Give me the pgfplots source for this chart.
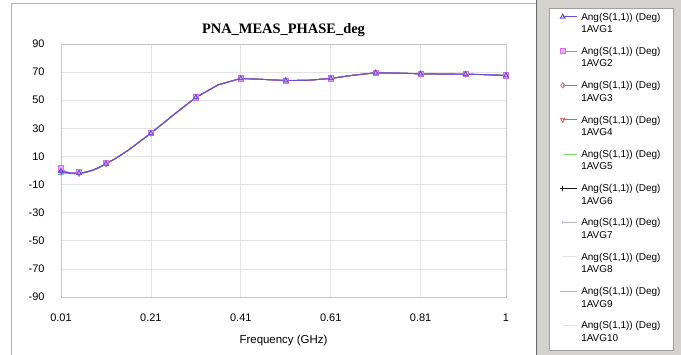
\documentclass[border=0pt]{standalone}
\usepackage{fontspec}
\setmainfont{Liberation Sans}
\newfontfamily\titlefont{Liberation Serif}
\usepackage{pgfplots}
\usepackage{pgfplotstable}
\pgfplotsset{compat=1.18}
\definecolor{c1}{RGB}{100,80,220}
\definecolor{c2}{RGB}{215,110,230}
\definecolor{c3}{RGB}{180,110,130}
\definecolor{c4}{RGB}{230,90,90}
\definecolor{c5}{RGB}{120,220,100}
\definecolor{c6}{RGB}{20,20,20}
\definecolor{c7}{RGB}{185,185,195}
\definecolor{c8}{RGB}{225,225,225}
\definecolor{c9}{RGB}{80,220,230}
\definecolor{c10}{RGB}{250,240,130}
\definecolor{panelgray}{RGB}{212,210,206}
\pgfplotstableread{
x     y1    y2    y3    y4    y5    y6    y7    y8    y9    y10
0.01  -0.5  2.0   0.5   -1.5  -2.0  -0.8  0.8   -0.3  -3.0  -1.0
0.02  -1.2  -0.8  -1.5  -1.0  -1.8  -1.4  -1.0  -1.2  -2.0  -1.3
0.03  -1.8  -1.5  -2.2  -1.6  -2.0  -1.9  -1.7  -1.8  -2.3  -1.8
0.04  -2.0  -1.6  -2.4  -2.2  -1.8  -2.0  -2.1  -2.0  -2.3  -2.0
0.05  -1.8  -1.2  -2.3  -2.0  -2.1  -1.7  -1.9  -1.8  -1.6  -1.8
0.06  -1.5  -1.6  -1.2  -1.8  -1.4  -1.5  -1.5  -1.5  -1.6  -1.5
0.07  -0.8  -0.6  -1.0  -0.7  -1.1  -0.8  -0.9  -0.8  -0.6  -0.8
0.08  0.2   0.4   0.0   0.3   -0.2  0.2   0.1   0.2   0.3   0.2
0.09  1.5   1.7   1.3   1.6   1.2   1.5   1.4   1.5   1.6   1.5
0.10  3.0   3.1   2.9   3.0   2.9   3.0   3.0   3.0   3.1   3.0
0.11  4.8   5.2   4.6   5.0   4.7   4.8   4.8   4.8   4.9   4.8
0.13  8.3   8.3   8.3   8.3   8.3   8.3   8.3   8.3   8.3   8.3
0.16  14.5  14.5  14.5  14.5  14.5  14.5  14.5  14.5  14.5  14.5
0.21  26.5  26.5  26.5  26.5  26.5  26.5  26.5  26.5  26.5  26.5
0.26  39.5  39.5  39.5  39.5  39.5  39.5  39.5  39.5  39.5  39.5
0.31  52.0  52.0  52.0  52.0  52.0  52.0  52.0  52.0  52.0  52.0
0.36  61.0  61.0  61.0  61.0  61.0  61.0  61.0  61.0  61.0  61.0
0.41  65.5  65.5  65.5  65.5  65.5  65.5  65.5  65.5  65.5  65.5
0.46  64.8  64.8  64.8  64.8  64.8  64.8  64.8  64.8  64.8  64.8
0.51  64.0  64.0  64.0  64.0  64.0  64.0  64.0  64.0  64.0  64.0
0.56  64.2  64.2  64.2  64.2  64.2  64.2  64.2  64.2  64.2  64.2
0.61  65.5  65.5  65.5  65.5  65.5  65.5  65.5  65.5  65.5  65.5
0.66  67.8  67.8  67.8  67.8  67.8  67.8  67.8  67.8  67.8  67.8
0.71  69.5  69.5  69.5  69.5  69.5  69.5  69.5  69.5  69.5  69.5
0.76  69.3  69.3  69.3  69.3  69.3  69.3  69.3  69.3  69.3  69.3
0.81  68.8  68.8  68.8  68.8  68.8  68.8  68.8  68.8  68.8  68.8
0.86  68.6  68.6  68.6  68.6  68.6  68.6  68.6  68.6  68.6  68.6
0.91  68.5  68.5  68.5  68.5  68.5  68.5  68.5  68.5  68.5  68.5
0.955 68.2  68.2  68.2  68.2  68.2  68.2  68.2  68.2  68.2  68.2
1.00  67.6  67.6  67.6  67.6  67.6  67.6  67.6  67.6  67.6  67.6
}\datatable
\begin{document}
\begin{tikzpicture}
\path[use as bounding box] (0,0) rectangle (681bp,355bp);
% panels
\fill[white] (0,0) rectangle (681bp,355bp);
\fill[panelgray] (536bp,0) rectangle (681bp,355bp);
\draw[gray!60,line width=1bp] (11bp,0) -- (11bp,351bp) -- (536bp,351bp);
\draw[gray!80!black,line width=1.5bp] (536.5bp,0) -- (536.5bp,355bp);
\draw[gray!75,fill=white,line width=0.8bp] (549bp,5bp) rectangle (673bp,347bp);
\begin{axis}[
  at={(61bp,58bp)}, anchor=south west,
  scale only axis, width=445bp, height=253bp,
  xmin=0.01, xmax=1, ymin=-90, ymax=90,
  xtick={0.01,0.21,0.41,0.61,0.81,1},
  xticklabels={0.01,0.21,0.41,0.61,0.81,1},
  ytick={-90,-70,...,90},
  grid=major,
  major grid style={gray!22, line width=0.6bp},
  axis line style={gray!45, line width=0.8bp},
  major tick length=0pt,
  tick label style={font=\fontsize{11}{13}\selectfont},
  /pgf/number format/assume math mode=true,
  yticklabel style={xshift=-13bp},
  xticklabel style={yshift=-13bp},
  title={\titlefont\bfseries\fontsize{14.5}{16}\selectfont PNA\_MEAS\_PHASE\_deg},
  title style={yshift=-2bp},
  xlabel={Frequency (GHz)},
  xlabel style={font=\fontsize{11.5}{13}\selectfont, yshift=-7bp},
  reverse legend,
  legend cell align=left,
  legend style={at={(1,1)}, anchor=north west, xshift=54bp, yshift=34bp,
    draw=none, fill=none,
    inner xsep=0bp, inner ysep=0bp, column sep=4bp, row sep=0pt,
    font=\fontsize{10}{12.5}\selectfont,
    nodes={inner sep=0pt, text height=10bp, text depth=24.3bp}},
  legend image code/.code={\draw[yshift=10.6bp,mark repeat=2,mark phase=2,#1] plot coordinates {(0bp,0bp) (7bp,0bp) (14bp,0bp)};},
  every axis plot/.append style={line width=0.8bp, mark size=2.6bp},
]
\addplot[c10, mark=none] table[x=x,y=y10] {\datatable};
\addplot[c9, mark=-, mark indices={1,5,11,14,16,18,20,22,24,26,28,30}] table[x=x,y=y9] {\datatable};
\addplot[c8, mark=none] table[x=x,y=y8] {\datatable};
\addplot[c7, mark=|, mark size=1.5bp, mark indices={1,5,11,14,16,18,20,22,24,26,28,30}] table[x=x,y=y7] {\datatable};
\addplot[c6, mark=+, mark size=2.5bp, mark indices={1,5,11,14,16,18,20,22,24,26,28,30}] table[x=x,y=y6] {\datatable};
\addplot[c5, mark=none] table[x=x,y=y5] {\datatable};
\addplot[c4, mark=triangle, mark options={rotate=180}, mark indices={1,5,11,14,16,18,20,22,24,26,28,30}] table[x=x,y=y4] {\datatable};
\addplot[c3, mark=diamond, mark indices={1,5,11,14,16,18,20,22,24,26,28,30}] table[x=x,y=y3] {\datatable};
\addplot[c2, mark=square*, mark options={fill=c2!55}, mark indices={1,5,11,14,16,18,20,22,24,26,28,30}] table[x=x,y=y2] {\datatable};
\addplot[c1, mark=triangle, line width=1bp, mark indices={1,5,11,14,16,18,20,22,24,26,28,30}] table[x=x,y=y1] {\datatable};
\legend{{\begin{tabular}[t]{@{}l@{}}Ang(S(1,1)) (Deg)\\1AVG10\end{tabular}},
{\begin{tabular}[t]{@{}l@{}}Ang(S(1,1)) (Deg)\\1AVG9\end{tabular}},
{\begin{tabular}[t]{@{}l@{}}Ang(S(1,1)) (Deg)\\1AVG8\end{tabular}},
{\begin{tabular}[t]{@{}l@{}}Ang(S(1,1)) (Deg)\\1AVG7\end{tabular}},
{\begin{tabular}[t]{@{}l@{}}Ang(S(1,1)) (Deg)\\1AVG6\end{tabular}},
{\begin{tabular}[t]{@{}l@{}}Ang(S(1,1)) (Deg)\\1AVG5\end{tabular}},
{\begin{tabular}[t]{@{}l@{}}Ang(S(1,1)) (Deg)\\1AVG4\end{tabular}},
{\begin{tabular}[t]{@{}l@{}}Ang(S(1,1)) (Deg)\\1AVG3\end{tabular}},
{\begin{tabular}[t]{@{}l@{}}Ang(S(1,1)) (Deg)\\1AVG2\end{tabular}},
{\begin{tabular}[t]{@{}l@{}}Ang(S(1,1)) (Deg)\\1AVG1\end{tabular}}}
\end{axis}
\end{tikzpicture}
\end{document}
